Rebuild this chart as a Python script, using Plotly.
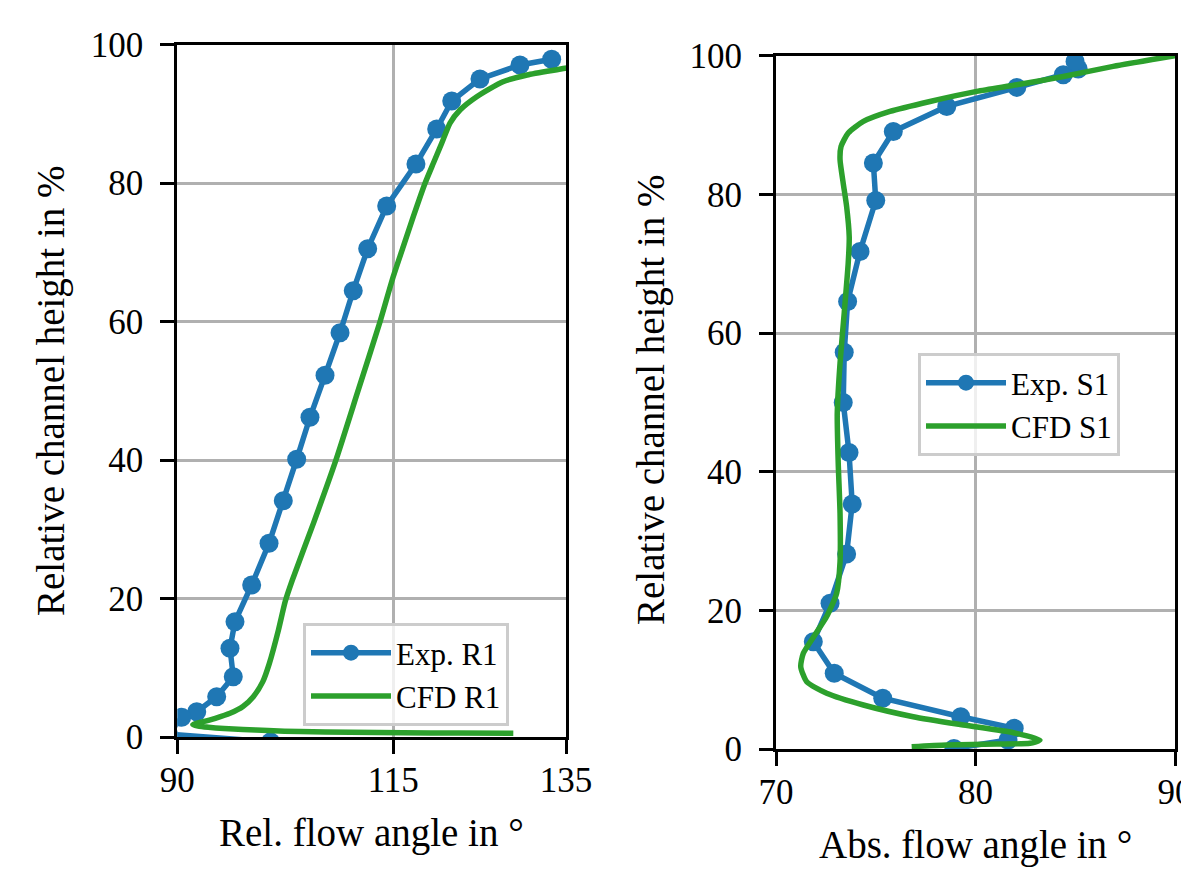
import plotly.graph_objects as go

# ---------------- data ----------------
# Left panel: relative flow angle (deg) vs relative channel height (%)
exp_r1_angle = [133.34, 129.67, 125.04, 121.77, 120.03, 117.63, 114.24, 112.04, 110.37, 108.84,
                107.10, 105.36, 103.82, 102.27, 100.62, 98.61, 96.68, 96.10, 96.48, 94.56,
                92.25, 90.51, 89.0, 100.8]
exp_r1_height = [97.86, 97.04, 95.03, 91.84, 87.80, 82.74, 76.68, 70.51, 64.45, 58.38,
                 52.23, 46.17, 40.10, 34.12, 27.97, 21.95, 16.65, 12.81, 8.71, 5.82,
                 3.65, 2.84, 0.4, -0.7]

cfd_r1_angle = [137.0, 134.88, 130.5, 127.70, 124.66, 122.73, 121.57, 120.61, 119.64, 118.68,
                117.32, 116.16, 114.94, 113.47, 110.9, 108.34, 105.8, 103.30, 102.50, 101.70,
                100.65, 99.90, 98.80, 97.60, 96.10, 94.40, 93.01, 92.10, 91.80, 92.40,
                93.60, 95.40, 97.60, 100.5, 104.20, 110.0, 116.16, 122.5, 128.90]
cfd_r1_height = [97.10, 96.56, 95.60, 94.63, 92.46, 90.54, 88.66, 85.73, 82.85, 79.96,
                 75.13, 70.80, 66.24, 59.97, 49.90, 39.90, 31.0, 22.60, 19.60, 15.40,
                 10.60, 8.00, 5.82, 4.40, 3.42, 2.70, 2.21, 1.95, 1.80, 1.58,
                 1.40, 1.22, 1.08, 0.93, 0.78, 0.70, 0.62, 0.57, 0.53]

# Right panel: absolute flow angle (deg) vs relative channel height (%)
exp_s1_angle = [78.92, 81.63, 81.94, 79.26, 75.35, 72.92, 71.87, 72.71, 73.54, 73.82,
                73.66, 73.37, 73.42, 73.59, 74.21, 75.00, 74.88, 75.88, 78.56, 82.07,
                84.40, 85.15, 84.99]
exp_s1_height = [0.07, 1.30, 2.99, 4.66, 7.32, 10.92, 15.48, 21.02, 28.14, 35.35,
                 42.76, 49.97, 57.24, 64.55, 71.76, 79.12, 84.52, 89.08, 92.68, 95.43,
                 97.26, 98.08, 99.18]

cfd_s1_angle = [90.00, 86.90, 84.40, 82.07, 80.06, 77.72, 75.71, 74.38, 73.62, 73.26,
                73.21, 73.37, 73.54, 73.67, 73.62, 73.42, 73.21, 73.07, 73.12, 73.21,
                73.21, 73.04, 72.54, 71.95, 71.37, 71.24, 71.54, 72.54, 74.38, 76.88,
                79.39, 81.90, 83.23, 82.73, 81.06, 78.56, 76.80]
cfd_s1_height = [100.00, 98.46, 97.00, 95.80, 94.85, 93.40, 91.96, 90.52, 88.85, 86.90,
                 85.00, 81.60, 78.25, 73.90, 70.10, 62.90, 55.66, 48.44, 41.20, 34.00,
                 27.00, 22.47, 19.10, 16.45, 13.80, 11.88, 9.70, 8.04, 6.35, 4.66,
                 3.46, 2.35, 1.30, 0.82, 0.72, 0.58, 0.33]

left_xticks = [90, 115, 135]
right_xticks = [70, 80, 90]
yticks = [0, 20, 40, 60, 80, 100]

# ---------------- style ----------------
BLUE = "#1f77b4"
GREEN = "#2ca02c"
FONT = "Liberation Serif"
W, H = 1181, 873
LW = 5.5
MS = 19

fig = go.Figure()

fig.add_trace(go.Scatter(x=exp_r1_angle, y=exp_r1_height, mode="lines+markers", name="Exp. R1",
                         line=dict(color=BLUE, width=LW), marker=dict(size=MS, color=BLUE),
                         xaxis="x", yaxis="y", legend="legend"))
fig.add_trace(go.Scatter(x=cfd_r1_angle, y=cfd_r1_height, mode="lines", name="CFD R1",
                         line=dict(color=GREEN, width=LW, shape="spline", smoothing=0.6),
                         xaxis="x", yaxis="y", legend="legend"))
fig.add_trace(go.Scatter(x=exp_s1_angle, y=exp_s1_height, mode="lines+markers", name="Exp. S1",
                         line=dict(color=BLUE, width=LW), marker=dict(size=MS, color=BLUE),
                         xaxis="x2", yaxis="y2", legend="legend2"))
fig.add_trace(go.Scatter(x=cfd_s1_angle, y=cfd_s1_height, mode="lines", name="CFD S1",
                         line=dict(color=GREEN, width=LW, shape="spline", smoothing=0.6),
                         xaxis="x2", yaxis="y2", legend="legend2"))

axis_common = dict(
    showgrid=True, gridcolor="#b0b0b0", gridwidth=3,
    showline=True, linecolor="black", linewidth=3, mirror=True,
    ticks="outside", ticklen=14, tickwidth=3, tickcolor="black",
    zeroline=False, tickfont=dict(family=FONT, size=35, color="black"),
    automargin=False, ticklabeloverflow="allow",
)

def px_x(p):
    return p / W

def px_y(p):
    return 1 - p / H

legend_common = dict(xanchor="left", yanchor="top",
                     bgcolor="rgba(255,255,255,0.8)", bordercolor="#cccccc", borderwidth=3,
                     font=dict(family=FONT, size=31, color="black"), itemwidth=80,
                     tracegroupgap=0)

fig.update_layout(
    width=W, height=H, autosize=False,
    margin=dict(l=0, r=0, t=0, b=0),
    paper_bgcolor="white", plot_bgcolor="white",
    font=dict(family=FONT, color="black"),
    xaxis=dict(domain=[px_x(177.3), px_x(566)], range=[90, 135], tickvals=left_xticks,
               anchor="y", ticklabelstandoff=-4, **axis_common),
    yaxis=dict(domain=[px_y(737), px_y(44.5)], range=[0, 100], tickvals=yticks,
               anchor="x", ticklabelstandoff=10, **axis_common),
    xaxis2=dict(domain=[px_x(776), px_x(1175)], range=[70, 90], tickvals=right_xticks,
                anchor="y2", ticklabelstandoff=-4, **axis_common),
    yaxis2=dict(domain=[px_y(749), px_y(55.7)], range=[0, 100], tickvals=yticks,
                anchor="x2", ticklabelstandoff=10, **axis_common),
    legend=dict(x=px_x(303), y=px_y(623), **legend_common),
    legend2=dict(x=px_x(918), y=px_y(353), **legend_common),
    showlegend=True,
)

title_font = dict(family=FONT, size=39, color="black")
annotations = [
    dict(text="Rel. flow angle in °", x=px_x(371.6), y=px_y(833), xref="paper", yref="paper",
         xanchor="center", yanchor="middle", showarrow=False, font=title_font),
    dict(text="Abs. flow angle in °", x=px_x(975.5), y=px_y(845), xref="paper", yref="paper",
         xanchor="center", yanchor="middle", showarrow=False, font=title_font),
    dict(text="Relative channel height in %", x=px_x(51), y=px_y(391), xref="paper", yref="paper",
         xanchor="center", yanchor="middle", showarrow=False, textangle=-90, font=title_font),
    dict(text="Relative channel height in %", x=px_x(651), y=px_y(400), xref="paper", yref="paper",
         xanchor="center", yanchor="middle", showarrow=False, textangle=-90, font=title_font),
]
fig.update_layout(annotations=annotations)

fig.write_html("out.html")
